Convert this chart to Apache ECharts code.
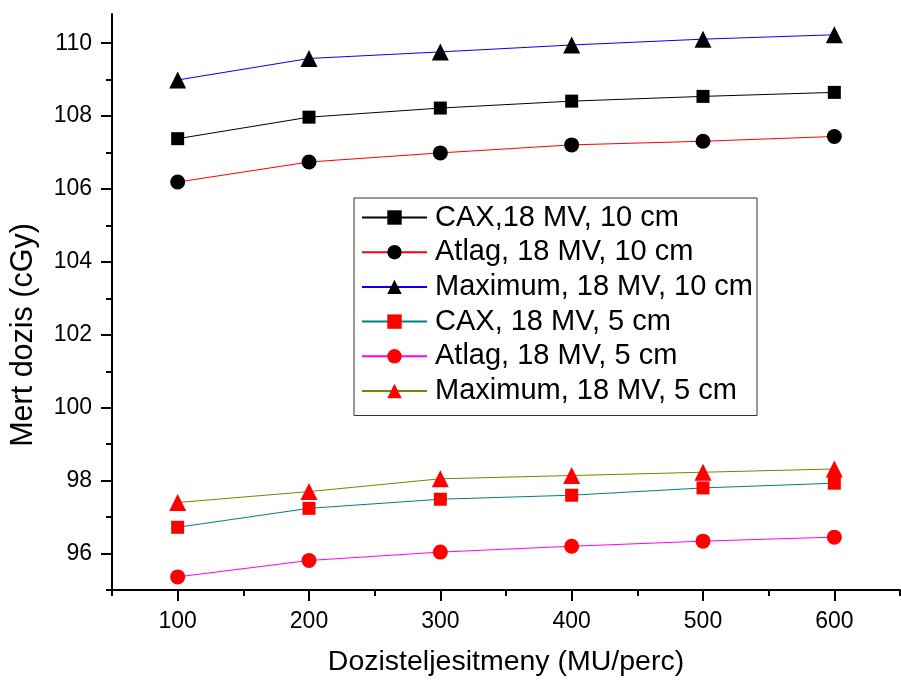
<!DOCTYPE html>
<html>
<head>
<meta charset="utf-8">
<script src="https://cdn.jsdelivr.net/npm/echarts@6/dist/echarts.min.js"></script>
<style>
  html, body { margin: 0; padding: 0; background: #fff; }
  #chart { width: 901px; height: 682px; }
</style>
</head>
<body>
<div id="chart"></div>
<script>
// Dose rate (MU/perc) on the x axis
const doseRates = [100, 200, 300, 400, 500, 600];

// Measured dose (cGy), 18 MV, 10 cm depth
const cax10 = [107.38, 107.97, 108.22, 108.41, 108.54, 108.65];
const atlag10 = [106.19, 106.74, 106.99, 107.21, 107.31, 107.44];
const max10 = [108.99, 109.58, 109.76, 109.95, 110.11, 110.23];

// Measured dose (cGy), 18 MV, 5 cm depth
const cax5 = [96.72, 97.24, 97.49, 97.60, 97.80, 97.93];
const atlag5 = [95.36, 95.81, 96.04, 96.20, 96.34, 96.45];
const max5 = [97.40, 97.70, 98.05, 98.14, 98.23, 98.32];

// Tick positions
const xMajorTicks = [100, 200, 300, 400, 500, 600];
const xMinorTicks = [50, 150, 250, 350, 450, 550, 650];
const yMajorTicks = [96, 98, 100, 102, 104, 106, 108, 110];
const yMinorTicks = [95, 97, 99, 101, 103, 105, 107, 109];

const seriesNames = [
  'CAX,18 MV, 10 cm',
  'Atlag, 18 MV, 10 cm',
  'Maximum, 18 MV, 10 cm',
  'CAX, 18 MV, 5 cm',
  'Atlag, 18 MV, 5 cm',
  'Maximum, 18 MV, 5 cm'
];

const FONT = '"Liberation Sans", Arial, sans-serif';
const X_MIN = 50, X_MAX = 650, Y_MIN = 95, Y_MAX = 110.8;

function pairs(values) {
  return doseRates.map((x, i) => [x, values[i]]);
}

function makeSeries(name, values, lineColor, markerColor, symbol, size) {
  return {
    name: name,
    type: 'line',
    xAxisIndex: 0,
    yAxisIndex: 0,
    data: pairs(values),
    symbol: symbol,
    symbolSize: size,
    showAllSymbol: true,
    lineStyle: { color: lineColor, width: 1 },
    itemStyle: { color: markerColor },
    emphasis: { disabled: true },
    z: 3
  };
}

const chart = echarts.init(document.getElementById('chart'), null, { renderer: 'canvas' });

const triPath = 'path://M0,-1 L1,0.8 L-1,0.8 Z';

chart.setOption({
  animation: false,
  backgroundColor: '#ffffff',
  grid: { left: 111, right: 1, top: 14, bottom: 90, containLabel: false },
  legend: {
    orient: 'vertical',
    left: 354,
    top: 198,
    padding: [5, 4, 10, 7],
    borderColor: '#333',
    borderWidth: 1,
    itemWidth: 65,
    itemHeight: 18,
    itemGap: 5.7,
    textStyle: { fontFamily: FONT, fontSize: 29, lineHeight: 28, color: '#000', padding: [0, 0, 0, 3] },
    data: seriesNames
  },
  xAxis: [
    {
      type: 'value',
      min: X_MIN,
      max: X_MAX,
      position: 'bottom',
      name: 'Dozisteljesitmeny (MU/perc)',
      nameLocation: 'middle',
      nameGap: 58,
      nameTextStyle: { fontFamily: FONT, fontSize: 28.5, color: '#000' },
      axisLine: { onZero: false, lineStyle: { color: '#000', width: 2 } },
      axisTick: { customValues: xMajorTicks, length: 11, inside: false, lineStyle: { color: '#000', width: 2 } },
      axisLabel: { customValues: xMajorTicks, margin: 20, fontFamily: FONT, fontSize: 23, color: '#000' },
      splitLine: { show: false }
    },
    {
      type: 'value',
      min: X_MIN,
      max: X_MAX,
      position: 'bottom',
      axisLine: { show: false, onZero: false },
      axisTick: { customValues: xMinorTicks, length: 6, inside: false, lineStyle: { color: '#000', width: 2 } },
      axisLabel: { show: false },
      splitLine: { show: false }
    }
  ],
  yAxis: [
    {
      type: 'value',
      min: Y_MIN,
      max: Y_MAX,
      position: 'left',
      name: 'Mert dozis (cGy)',
      nameLocation: 'middle',
      nameGap: 73,
      nameTextStyle: { fontFamily: FONT, fontSize: 30.5, color: '#000', padding: [0, 66, 0, 0] },
      axisLine: { onZero: false, lineStyle: { color: '#000', width: 2 } },
      axisTick: { customValues: yMajorTicks, length: 11, inside: false, lineStyle: { color: '#000', width: 2 } },
      axisLabel: { customValues: yMajorTicks, margin: 20, fontFamily: FONT, fontSize: 23, color: '#000' },
      splitLine: { show: false }
    },
    {
      type: 'value',
      min: Y_MIN,
      max: Y_MAX,
      position: 'left',
      axisLine: { show: false, onZero: false },
      axisTick: { customValues: yMinorTicks, length: 6, inside: false, lineStyle: { color: '#000', width: 2 } },
      axisLabel: { show: false },
      splitLine: { show: false }
    }
  ],
  series: [
    makeSeries(seriesNames[0], cax10, '#000000', '#000000', 'rect', 13),
    makeSeries(seriesNames[1], atlag10, '#ff0000', '#000000', 'circle', 15),
    makeSeries(seriesNames[2], max10, '#0000ff', '#000000', triPath, 17),
    makeSeries(seriesNames[3], cax5, '#008080', '#ff0000', 'rect', 13),
    makeSeries(seriesNames[4], atlag5, '#ff00ff', '#ff0000', 'circle', 15),
    makeSeries(seriesNames[5], max5, '#808000', '#ff0000', triPath, 17)
  ]
});
</script>
</body>
</html>
